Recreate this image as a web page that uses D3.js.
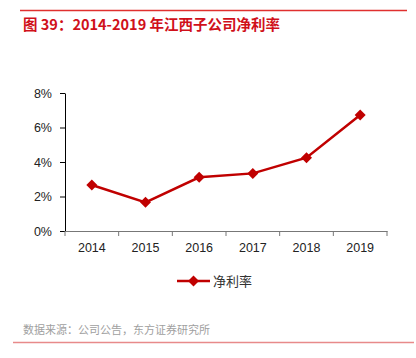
<!DOCTYPE html>
<html><head><meta charset="utf-8">
<script src="https://cdn.jsdelivr.net/npm/d3@7"></script>
<style>body{margin:0;background:#fff}svg{display:block}</style>
</head><body>
<script>
const years = ["2014","2015","2016","2017","2018","2019"];
const netMargin = [2.67, 1.66, 3.11, 3.34, 4.25, 6.72];
const yTicks = [0, 2, 4, 6, 8];
const title = "图 39：2014-2019 年江西子公司净利率";
const seriesName = "净利率";
const source = "数据来源：公司公告，东方证券研究所";

const W = 416, H = 358;
const svg = d3.select("body").append("svg").attr("width", W).attr("height", H);
const font = "'Liberation Sans', Arial, 'Noto Sans CJK SC', sans-serif";
const red = "#c00000";

svg.append("line").attr("x1",20).attr("x2",407).attr("y1",10.5).attr("y2",10.5)
  .attr("stroke","#e0302f").attr("stroke-width",1.5);
svg.append("text").attr("x",23).attr("y",29.5).text(title)
  .attr("font-family","'Noto Sans CJK SC', sans-serif").attr("font-weight","bold")
  .attr("font-size",14.5).attr("fill","#d0101a");

const x = d3.scaleBand().domain(years).range([65, 387]);
const y = d3.scaleLinear().domain([0, 8]).range([231, 93]);

// y axis
const ya = svg.append("g").attr("transform","translate(65,0)")
  .call(d3.axisLeft(y).tickValues(yTicks).tickFormat(d => d + "%").tickSize(5).tickSizeOuter(0));
ya.select(".domain").attr("stroke","#000");
ya.selectAll(".tick line").attr("stroke","#000");
ya.selectAll("text").attr("font-family",font).attr("font-size",12.5).attr("fill","#222").attr("x",-13);

// x axis
const xa = svg.append("g").attr("transform","translate(0,231)")
  .call(d3.axisBottom(x).tickSize(0).tickSizeOuter(0));
xa.select(".domain").attr("stroke","#777").attr("stroke-width",1.2);
xa.selectAll("text").attr("font-family",font).attr("font-size",12.5).attr("fill","#222").attr("dy","1.45em");
const bounds = years.map(d => x(d)).concat([x.range()[1]]);
svg.append("g").selectAll("line").data(bounds).join("line")
  .attr("x1", d => d).attr("x2", d => d).attr("y1",231).attr("y2",236).attr("stroke","#777");

const cx = d => x(d) + x.bandwidth()/2;
const line = d3.line().x((d,i) => cx(years[i])).y(d => y(d));
svg.append("path").datum(netMargin).attr("d", line).attr("fill","none")
  .attr("stroke", red).attr("stroke-width", 2.5);
const r = 5.5;
const diamond = `M0,${-r}L${r},0L0,${r}L${-r},0Z`;
svg.append("g").selectAll("path").data(netMargin).join("path")
  .attr("d", diamond).attr("transform",(d,i) => `translate(${cx(years[i])},${y(d)})`)
  .attr("fill", red);

// legend
svg.append("line").attr("x1",177).attr("x2",210).attr("y1",281).attr("y2",281)
  .attr("stroke", red).attr("stroke-width",2.5);
svg.append("path").attr("d", diamond).attr("transform","translate(193.5,281)").attr("fill", red);
svg.append("text").attr("x",213).attr("y",286).text(seriesName)
  .attr("font-family","'Noto Sans CJK SC', sans-serif").attr("font-size",13).attr("fill","#333");

// footer
svg.append("text").attr("x",23).attr("y",334).text(source)
  .attr("font-family","'Noto Sans CJK SC', sans-serif").attr("font-size",11).attr("fill","#a0a0a0");
svg.append("line").attr("x1",13).attr("x2",414).attr("y1",342.5).attr("y2",342.5)
  .attr("stroke","#e88a8a").attr("stroke-width",1.5);
</script>
</body></html>
